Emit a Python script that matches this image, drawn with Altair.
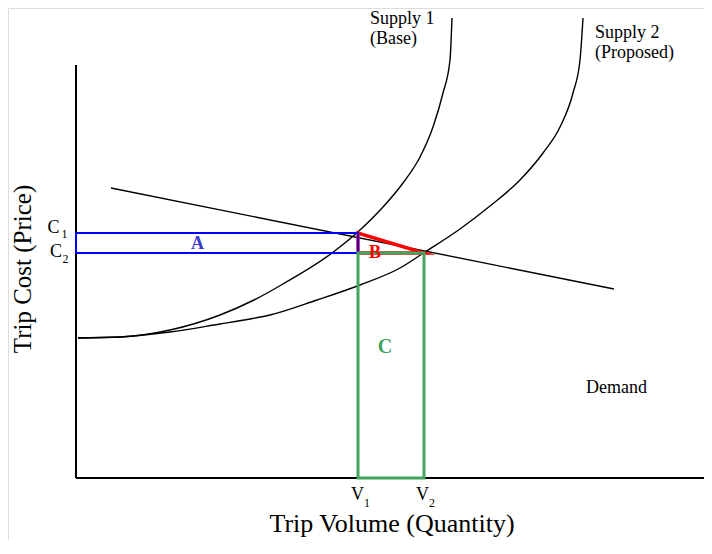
import altair as alt
import pandas as pd

FONT = "Liberation Serif"

# ---- data (units: x = trip volume, y = trip cost; origin at the axes corner) ----
supply1_x = [2, 44, 94, 144, 178, 207, 256, 284, 307, 327, 344, 357, 367, 374, 376]
supply1_y = [140, 141, 148, 163, 178, 194, 225, 248, 271, 295, 321, 351, 385, 418, 460]

supply2_x = [2, 44, 94, 144, 174, 194, 241, 284, 324, 349, 384, 414, 444, 467, 484, 497, 504, 507]
supply2_y = [140, 141, 146, 154, 159, 163, 178, 193, 210, 226, 249, 272, 298, 325, 351, 385, 418, 460]

demand_x = [35, 538]
demand_y = [290, 189]

C1, C2 = 245, 225          # price levels
V1, V2 = 282, 348          # volume levels
X_AXIS_END = 636
Y_AXIS_END = 413

# labels
main_text = ["Supply 1", "(Base)", "Supply 2", "(Proposed)", "Demand"]
main_x = [294, 294, 519, 519, 510]
main_y = [454, 434, 440, 420, 85]

letter_text = ["C", "C", "V", "V"]
letter_x = [-22.5, -20, 281.5, 346.5]
letter_y = [245, 221, -22, -22]

sub_text = ["1", "2", "1", "2"]
sub_x = [-11.5, -10.5, 291, 356]
sub_y = [240, 215, -29, -29]

area_text = ["A", "B", "C"]
area_x = [121.5, 299, 309]
area_y = [229, 220, 125]
area_color = ["#3b3bcc", "#ff0000", "#44a35e"]
area_size = [18, 18, 20]

x_title, x_title_x, x_title_y = "Trip Volume (Quantity)", 316, -54
y_title, y_title_x, y_title_y = "Trip Cost (Price)", -45, 209

W, H = 696, 532
XDOM = [-68, -68 + W]
YDOM = [470 - H, 470]

xs = alt.Scale(domain=XDOM, nice=False, zero=False)
ys = alt.Scale(domain=YDOM, nice=False, zero=False)


def X(f="x"):
    return alt.X(f"{f}:Q", scale=xs, axis=None)


def Y(f="y"):
    return alt.Y(f"{f}:Q", scale=ys, axis=None)


curves = pd.concat([
    pd.DataFrame({"x": supply1_x, "y": supply1_y, "s": "Supply 1", "o": range(len(supply1_x))}),
    pd.DataFrame({"x": supply2_x, "y": supply2_y, "s": "Supply 2", "o": range(len(supply2_x))}),
])
demand = pd.DataFrame({"x": demand_x, "y": demand_y})

axes_df = pd.DataFrame({"x": [0, 0], "x2": [0, X_AXIS_END], "y": [0, 0], "y2": [Y_AXIS_END, 0]})

blue_df = pd.DataFrame({"x": [0], "x2": [V1], "y": [C2], "y2": [C1]})
green_df = pd.DataFrame({"x": [V1], "x2": [V2], "y": [0], "y2": [C2]})
tri_df = pd.DataFrame({"x": [V1, V1, V2, V1], "y": [C2, C1, C2, C2], "o": [0, 1, 2, 3]})

axes = alt.Chart(axes_df).mark_rule(color="black", strokeWidth=2).encode(
    x=X(), x2="x2:Q", y=Y(), y2="y2:Q")

curve_layer = alt.Chart(curves).mark_line(color="black", strokeWidth=1.4, interpolate="monotone").encode(
    x=X(), y=Y(), detail="s:N", order="o:Q")

demand_layer = alt.Chart(demand).mark_line(color="black", strokeWidth=1.4).encode(x=X(), y=Y())

red_tri = alt.Chart(tri_df).mark_line(color="#ff0000", strokeWidth=3.5, strokeJoin="miter",
                                      strokeMiterLimit=10).encode(x=X(), y=Y(), order="o:Q")

blue_rect = alt.Chart(blue_df).mark_rect(fillOpacity=0, stroke="#0000ff", strokeWidth=2).encode(
    x=X(), x2="x2:Q", y=Y(), y2="y2:Q")

green_rect = alt.Chart(green_df).mark_rect(fillOpacity=0, stroke="#44a35e", strokeWidth=3).encode(
    x=X(), x2="x2:Q", y=Y(), y2="y2:Q")

main_labels = alt.Chart(pd.DataFrame({"t": main_text, "x": main_x, "y": main_y})).mark_text(
    font=FONT, fontSize=18, align="left", baseline="alphabetic", color="black").encode(
    x=X(), y=Y(), text="t:N")

letters = alt.Chart(pd.DataFrame({"t": letter_text, "x": letter_x, "y": letter_y})).mark_text(
    font=FONT, fontSize=18, align="center", baseline="alphabetic", color="black").encode(
    x=X(), y=Y(), text="t:N")

subs = alt.Chart(pd.DataFrame({"t": sub_text, "x": sub_x, "y": sub_y})).mark_text(
    font=FONT, fontSize=12, align="center", baseline="alphabetic", color="black").encode(
    x=X(), y=Y(), text="t:N")

areas = alt.Chart(pd.DataFrame({"t": area_text, "x": area_x, "y": area_y, "c": area_color,
                                "sz": area_size})).mark_text(
    font=FONT, fontWeight="bold", align="center", baseline="alphabetic").encode(
    x=X(), y=Y(), text="t:N", color=alt.Color("c:N", scale=None),
    size=alt.Size("sz:Q", scale=None))

xt = alt.Chart(pd.DataFrame({"t": [x_title], "x": [x_title_x], "y": [x_title_y]})).mark_text(
    font=FONT, fontSize=26, align="center", baseline="alphabetic", color="black").encode(
    x=X(), y=Y(), text="t:N")

yt = alt.Chart(pd.DataFrame({"t": [y_title], "x": [y_title_x], "y": [y_title_y]})).mark_text(
    font=FONT, fontSize=25, align="center", baseline="alphabetic", angle=270, color="black").encode(
    x=X(), y=Y(), text="t:N")

chart = alt.layer(
    axes, curve_layer, demand_layer, red_tri, blue_rect, green_rect,
    main_labels, letters, subs, areas, xt, yt
).properties(
    width=W, height=H, autosize=alt.AutoSizeParams(type="none"), padding=0
).configure_view(stroke="transparent", strokeWidth=0).configure(background="white")

chart.save("out.html", embed_options={"renderer": "svg", "actions": False})
